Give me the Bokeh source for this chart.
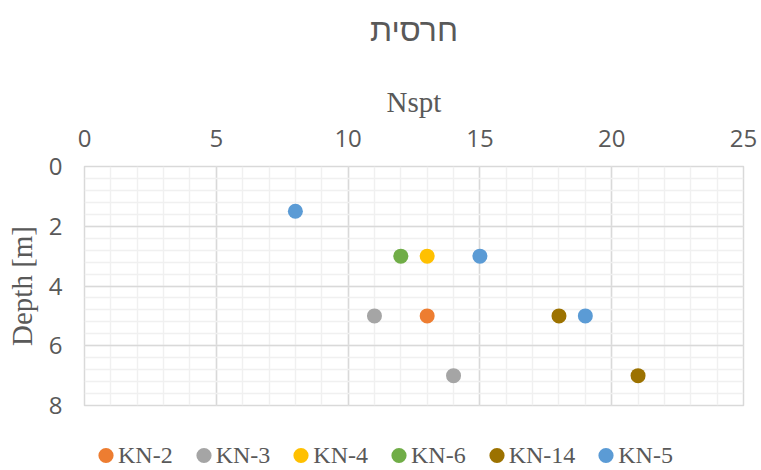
from bokeh.plotting import figure
from bokeh.layouts import column
from bokeh.models import (Range1d, SingleIntervalTicker, FixedTicker, LinearAxis,
                          Legend, LegendItem, ColumnDataSource)
from bokeh.embed import file_html
from bokeh.resources import INLINE

# ---- data ----
series_names = ["KN-2", "KN-3", "KN-4", "KN-6", "KN-14", "KN-5"]
series_colors = ["#ED7D31", "#A5A5A5", "#FFC000", "#70AD47", "#9C7200", "#5B9BD5"]
kn2_nspt = [13];        kn2_depth = [5]
kn3_nspt = [11, 14];    kn3_depth = [5, 7]
kn4_nspt = [13];        kn4_depth = [3]
kn6_nspt = [12];        kn6_depth = [3]
kn14_nspt = [18, 21];   kn14_depth = [5, 7]
kn5_nspt = [8, 15, 19]; kn5_depth = [1.5, 3, 5]
series_x = [kn2_nspt, kn3_nspt, kn4_nspt, kn6_nspt, kn14_nspt, kn5_nspt]
series_y = [kn2_depth, kn3_depth, kn4_depth, kn6_depth, kn14_depth, kn5_depth]

title_text = "חרסית"
x_label = "Nspt"
y_label = "Depth [m]"

TXT = "#595959"
SERIF = "Liberation Serif"
TICKF = "'Liberation Sans Narrow', 'Open Sans'"
W = 758

p = figure(width=W, height=420, output_backend="svg", toolbar_location=None,
           x_range=Range1d(0, 25), y_range=Range1d(8, 0),
           x_axis_location="above",
           min_border_left=84, min_border_right=15, min_border_top=166,
           min_border_bottom=15)

xt = SingleIntervalTicker(interval=5, num_minor_ticks=5)
yt = SingleIntervalTicker(interval=2, num_minor_ticks=5)
p.xaxis.ticker = xt
p.yaxis.ticker = yt

for ax in (p.xaxis[0], p.yaxis[0]):
    ax.axis_line_color = None
    ax.major_tick_line_color = None
    ax.minor_tick_line_color = None
    ax.major_tick_out = 0
    ax.major_tick_in = 0
    ax.minor_tick_out = 0
    ax.minor_tick_in = 0
    ax.major_label_text_font = TICKF
    ax.major_label_text_font_size = "24px"
    ax.major_label_text_color = TXT
    ax.axis_label_text_font = SERIF
    ax.axis_label_text_font_size = "29px"
    ax.axis_label_text_font_style = "normal"
    ax.axis_label_text_color = TXT

p.xaxis.axis_label = x_label
p.yaxis.axis_label = y_label
p.xaxis.major_label_standoff = 20
p.yaxis.major_label_standoff = 22
p.xaxis.axis_label_standoff = 9
p.yaxis.axis_label_standoff = 8

# chart title drawn as the label of an extra, tick-less top axis
title_axis = LinearAxis(ticker=FixedTicker(ticks=[]), axis_label=title_text,
                        axis_line_color=None, major_tick_out=0, minor_tick_out=0,
                        major_tick_in=0, minor_tick_in=0,
                        axis_label_standoff=35,
                        axis_label_text_font="Liberation Sans",
                        axis_label_text_font_size="32px",
                        axis_label_text_font_style="normal",
                        axis_label_text_color=TXT)
p.add_layout(title_axis, "above")

p.xgrid.ticker = xt
p.ygrid.ticker = yt
p.xgrid.grid_line_color = "#d9d9d9"
p.ygrid.grid_line_color = "#d9d9d9"
p.xgrid.grid_line_width = 1.5
p.ygrid.grid_line_width = 1.5
p.xgrid.minor_grid_line_color = "#f0f0f0"
p.ygrid.minor_grid_line_color = "#f0f0f0"
p.xgrid.minor_grid_line_width = 1.5
p.ygrid.minor_grid_line_width = 1.5
p.outline_line_color = "#d9d9d9"
p.outline_line_width = 1.5

# legend strip below the chart (its frame is aligned with the chart's frame);
# its ranges keep the series' own marks out of view, only the legend shows
lg = figure(width=W, height=46, output_backend="svg", toolbar_location=None,
            x_axis_location=None, y_axis_location=None, min_border=0,
            min_border_left=0, min_border_right=0, min_border_top=0,
            min_border_bottom=0, outline_line_color=None,
            x_range=Range1d(0, 25), y_range=Range1d(-2, -1))
lg.grid.visible = False

items = []
for name, color, xs, ys in zip(series_names, series_colors, series_x, series_y):
    src = ColumnDataSource(dict(x=xs, y=ys))
    p.scatter("x", "y", source=src, size=15, fill_color=color, line_color=None)
    r = lg.ellipse("x", "y", source=src, width=15, height=15,
                   width_units="screen", height_units="screen",
                   fill_color=color, line_color=None)
    items.append(LegendItem(label=name, renderers=[r]))

legend = Legend(items=items, orientation="horizontal", location=(12, -3),
                glyph_width=19, glyph_height=28, label_height=28,
                label_standoff=3, spacing=21,
                padding=0, margin=0, border_line_color=None,
                background_fill_alpha=0,
                label_text_font=SERIF, label_text_font_size="24px",
                label_text_color=TXT)
lg.add_layout(legend, "center")

layout = column(p, lg)
open("out.html", "w").write(file_html(layout, INLINE))
